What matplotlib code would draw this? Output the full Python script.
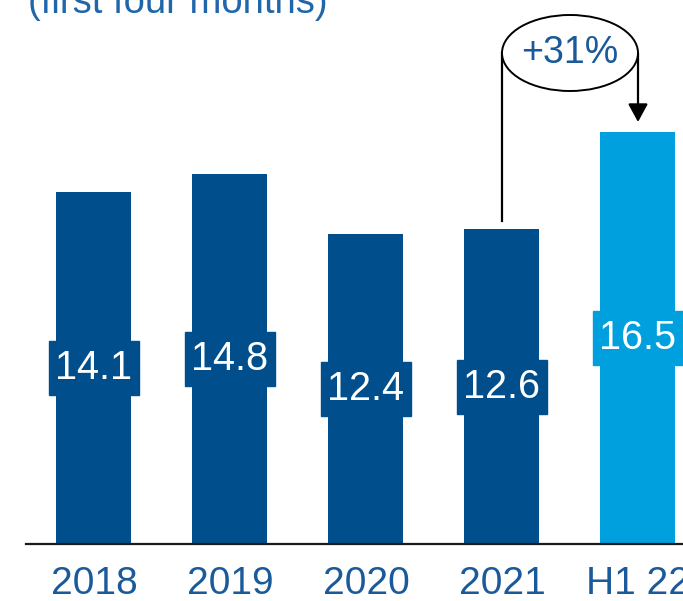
import matplotlib
matplotlib.use("Agg")
from matplotlib import pyplot as plt
from matplotlib.patches import Ellipse, Rectangle

categories = ["2018", "2019", "2020", "2021", "H1 22"]
values = [14.1, 14.8, 12.4, 12.6, 16.5]
growth_label = "+31%"
title = "(first four months)"

dark_blue = "#004f8c"
light_blue = "#00a0df"
text_blue = "#1a5a9a"
title_blue = "#1f66ab"
bar_colors = [dark_blue] * 4 + [light_blue]

plt.rcParams["font.family"] = ["Liberation Sans", "DejaVu Sans"]

fig = plt.figure(figsize=(6.83, 6.01), dpi=100)
ax = fig.add_axes([0, 0, 1, 1])
ax.axis("off")

# layout: 136 px between bars, 25 px per unit, baseline 57 px from bottom
ax.set_xlim(-94 / 136, (683 - 94) / 136)
ax.set_ylim(-57 / 25, 544 / 25)

xs = list(range(len(values)))
bar_w = 75 / 136
ax.bar(xs, values, width=bar_w, color=bar_colors, zorder=2)

# baseline
ax.axhline(0, xmin=26 / 683, xmax=1, color="#1a1a1a", lw=1.6, zorder=3)

# value labels sitting in a slightly wider box at mid height
box_w = bar_w + 15 / 136
box_h = 54 / 25
for x, v, c in zip(xs, values, bar_colors):
    ax.add_patch(Rectangle((x - box_w / 2, v / 2 - box_h / 2), box_w, box_h,
                           color=c, zorder=4))
    ax.text(x, v / 2, f"{v:.1f}", color="white", fontsize=28.5,
            ha="center", va="center", zorder=5)

# category labels
for x, lab in zip(xs, categories):
    ax.text(x, -2.0, lab, color=text_blue, fontsize=28,
            ha="center", va="baseline")

# growth bubble from 2021 to H1 22
ell_y = 19.64
ax.plot([3, 3], [ell_y, values[3] + 0.32], color="black", lw=1.6, zorder=3)
ax.annotate("", xy=(4, values[4] + 0.38), xytext=(4, ell_y),
            arrowprops=dict(arrowstyle="-|>,head_length=0.55,head_width=0.3",
                            color="black", lw=1.6, mutation_scale=20,
                            shrinkA=0, shrinkB=0), zorder=3)
ax.add_patch(Ellipse((3.5, ell_y), 1.0, 76 / 25, facecolor="white",
                     edgecolor="black", lw=1.4, zorder=4))
ax.text(3.5, ell_y, growth_label, color=text_blue, fontsize=27,
        ha="center", va="center", zorder=5)

# title, cut off at top like the source
ax.text(-0.485, 21.25, title, color=title_blue, fontsize=27.5,
        ha="left", va="baseline")

fig.savefig("out.png", dpi=100)
